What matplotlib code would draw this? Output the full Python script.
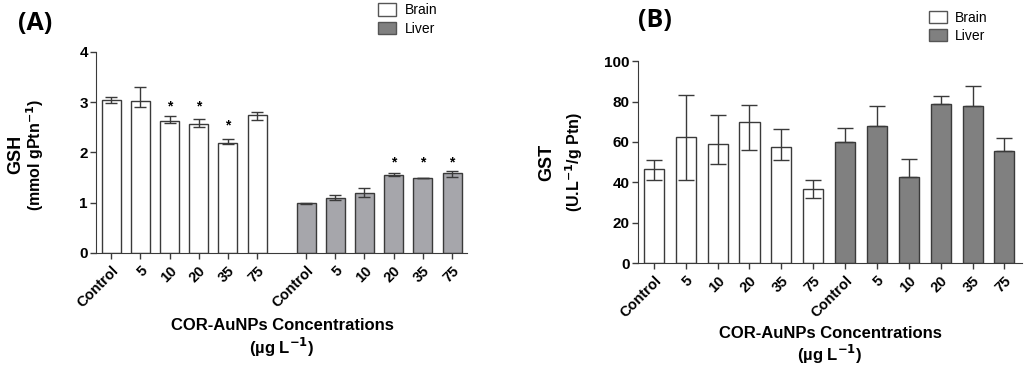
import matplotlib
matplotlib.use('Agg')
import matplotlib.pyplot as plt
import numpy as np
from matplotlib.patches import Patch

plt.rcParams['font.family'] = ['Liberation Sans', 'DejaVu Sans']

doses = ['Control', '5', '10', '20', '35', '75']

# panel A - GSH
gsh_brain = [3.04, 3.02, 2.625, 2.57, 2.195, 2.74]
gsh_brain_lo = [0.06, 0.12, 0.035, 0.06, 0.025, 0.10]
gsh_brain_hi = [0.07, 0.29, 0.095, 0.10, 0.065, 0.06]
gsh_liver = [0.99, 1.09, 1.20, 1.555, 1.49, 1.59]
gsh_liver_lo = [0.01, 0.03, 0.08, 0.015, 0.005, 0.07]
gsh_liver_hi = [0.01, 0.06, 0.10, 0.035, 0.005, 0.04]
star_y_brain = [None, None, 2.91, 2.91, 2.54, None]
star_y_liver = [None, None, None, 1.80, 1.80, 1.80]

# panel B - GST
gst_brain = [46.4, 62.2, 59.2, 69.7, 57.7, 36.5]
gst_brain_lo = [5.4, 21.2, 10.2, 13.6, 6.5, 4.4]
gst_brain_hi = [4.8, 21.0, 14.0, 8.6, 8.7, 4.5]
gst_liver = [60.0, 68.1, 42.4, 78.8, 77.8, 55.3]
gst_liver_err = [6.9, 9.9, 9.4, 4.1, 9.9, 6.5]

edge = '#3a3a3a'
bold = dict(fontweight='bold')
xlab = 'COR-AuNPs Concentrations'
xlab2 = '(µg L$^{\\mathbf{-1}}$)'

fig = plt.figure(figsize=(10.24, 3.66), dpi=100)

# ---------- (A) ----------
axA = fig.add_axes([0.094, 0.309, 0.362, 0.549])
xb = np.arange(6)
xl = np.arange(6) + 6.68
w = 0.65
axA.bar(xb, gsh_brain, w, color='white', edgecolor=edge, linewidth=1.0, zorder=2)
axA.errorbar(xb, gsh_brain, yerr=[gsh_brain_lo, gsh_brain_hi], fmt='none',
             ecolor=edge, elinewidth=1.0, capsize=4, capthick=1.0, zorder=3)
axA.bar(xl, gsh_liver, w, color='#a6a6ab', edgecolor=edge, linewidth=1.0, zorder=2)
axA.errorbar(xl, gsh_liver, yerr=[gsh_liver_lo, gsh_liver_hi], fmt='none',
             ecolor=edge, elinewidth=1.0, capsize=4, capthick=1.0, zorder=3)
for x, y in zip(xb, star_y_brain):
    if y is not None:
        axA.text(x, y, '*', ha='center', va='center', fontsize=10, fontweight='bold')
for x, y in zip(xl, star_y_liver):
    if y is not None:
        axA.text(x, y, '*', ha='center', va='center', fontsize=10, fontweight='bold')
axA.set_xlim(-0.51, 11.68 + 0.51)
axA.set_ylim(0, 4)
axA.set_yticks([0, 1, 2, 3, 4])
axA.set_xticks(list(xb) + list(xl))
axA.set_xticklabels(doses + doses, rotation=45, ha='right', rotation_mode='anchor', **bold)
axA.text(-0.216, 0.49, 'GSH', rotation=90, ha='center', va='center',
         transform=axA.transAxes, fontsize=13, **bold)
axA.text(-0.164, 0.49, '(mmol gPtn$^{\\mathbf{-1}}$)', rotation=90, ha='center', va='center',
         transform=axA.transAxes, fontsize=11.5, **bold)
fig.text(282 / 1024, 1 - 325 / 366, xlab, ha='center', va='center', fontsize=12, **bold)
fig.text(282 / 1024, 1 - 347 / 366, xlab2, ha='center', va='center', fontsize=12, **bold)

# ---------- (B) ----------
axB = fig.add_axes([0.623, 0.281, 0.375, 0.552])
xb2 = np.arange(6)
xl2 = np.arange(6) + 6
w2 = 0.63
axB.bar(xb2, gst_brain, w2, color='white', edgecolor=edge, linewidth=1.0, zorder=2)
axB.errorbar(xb2, gst_brain, yerr=[gst_brain_lo, gst_brain_hi], fmt='none',
             ecolor=edge, elinewidth=1.0, capsize=6, capthick=1.0, zorder=3)
axB.bar(xl2, gst_liver, w2, color='#808080', edgecolor=edge, linewidth=1.0, zorder=2)
axB.errorbar(xl2, gst_liver, yerr=[np.zeros(6), gst_liver_err], fmt='none',
             ecolor=edge, elinewidth=1.0, capsize=6, capthick=1.0, zorder=3)
axB.set_xlim(-0.5, 11.55)
axB.set_ylim(0, 100)
axB.set_yticks([0, 20, 40, 60, 80, 100])
axB.set_xticks(list(xb2) + list(xl2))
axB.set_xticklabels(doses + doses, rotation=45, ha='right', rotation_mode='anchor', **bold)
axB.text(-0.237, 0.5, 'GST', rotation=90, ha='center', va='center',
         transform=axB.transAxes, fontsize=13, **bold)
axB.text(-0.167, 0.5, '(U.L$^{\\mathbf{-1}}$/g Ptn)', rotation=90, ha='center', va='center',
         transform=axB.transAxes, fontsize=11.5, **bold)
fig.text(830 / 1024, 1 - 333 / 366, xlab, ha='center', va='center', fontsize=12, **bold)
fig.text(830 / 1024, 1 - 354 / 366, xlab2, ha='center', va='center', fontsize=12, **bold)

for ax in (axA, axB):
    ax.spines['top'].set_visible(False)
    ax.spines['right'].set_visible(False)
    ax.spines['left'].set_color(edge)
    ax.spines['bottom'].set_color(edge)
    ax.tick_params(axis='both', colors=edge, length=4, width=1.0)
    ax.tick_params(axis='y', labelsize=11, labelcolor='black', pad=2)
    ax.tick_params(axis='x', labelsize=10.5, labelcolor='black')
    for lab in ax.get_yticklabels():
        lab.set_fontweight('bold')

handles = [Patch(facecolor='white', edgecolor='#555555', label='Brain'),
           Patch(facecolor='#808080', edgecolor='#555555', label='Liver')]
fig.legend(handles=handles, loc='upper left', bbox_to_anchor=(0.357, 1.025),
           frameon=False, fontsize=10, handlelength=1.3, handleheight=1.0,
           handletextpad=0.6, labelspacing=0.3)
fig.legend(handles=handles, loc='upper left', bbox_to_anchor=(0.895, 1.005),
           frameon=False, fontsize=10, handlelength=1.3, handleheight=1.0,
           handletextpad=0.6, labelspacing=0.3)

fig.text(0.018, 1 - 11 / 366, '(A)', fontsize=18, fontweight='bold', va='top',
         family=['Open Sans', 'DejaVu Sans'])
fig.text(0.623, 1 - 8 / 366, '(B)', fontsize=18, fontweight='bold', va='top',
         family=['Open Sans', 'DejaVu Sans'])

fig.savefig('out.png', dpi=100)
